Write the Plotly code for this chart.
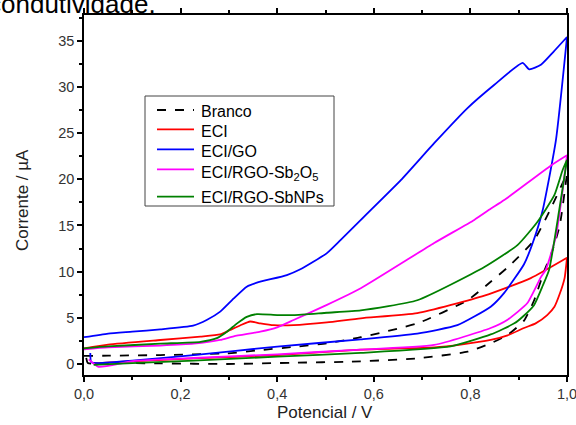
import plotly.graph_objects as go

# ---------------- data ----------------
names = ["Branco", "ECI", "ECI/GO", "ECI/RGO-Sb<sub>2</sub>O<sub>5</sub>", "ECI/RGO-SbNPs"]
colors = ["#000000", "#ff0000", "#0000ff", "#ff00ff", "#008000"]

# Branco (black dashed)
branco_v_up = [0, 0.05, 0.158, 0.296, 0.365, 0.434, 0.503, 0.573, 0.69, 0.794, 0.842, 0.88, 0.932, 0.967, 1.0]
branco_i_up = [0.87, 0.9, 0.97, 1.15, 1.5, 1.85, 2.24, 2.9, 4.4, 6.9, 8.9, 10.6, 13.4, 16.9, 20.6]
branco_v_dn = [1.0, 0.985, 0.968, 0.953, 0.932, 0.911, 0.877, 0.842, 0.794, 0.69, 0.552, 0.434, 0.296, 0.158, 0.05, 0.008, 0.004]
branco_i_dn = [20.6, 15.0, 12.0, 10.1, 6.9, 4.7, 3.14, 2.24, 1.33, 0.61, 0.25, 0.14, 0.0, 0.07, 0.1, 0.1, 0.87]

# ECI (red)
eci_v_up = [0, 0.05, 0.158, 0.241, 0.282, 0.303, 0.324, 0.344, 0.365, 0.393, 0.434, 0.503, 0.573, 0.69, 0.829, 0.925, 1.0]
eci_i_up = [1.7, 2.1, 2.6, 2.96, 3.2, 3.7, 4.2, 4.6, 4.4, 4.2, 4.2, 4.5, 4.95, 5.5, 7.4, 9.3, 11.5]
eci_v_dn = [1.0, 0.995, 0.985, 0.974, 0.959, 0.935, 0.911, 0.877, 0.842, 0.78, 0.725, 0.573, 0.4, 0.227, 0.1, 0.02]
eci_i_dn = [11.5, 9.3, 7.6, 6.2, 5.3, 4.4, 3.9, 3.1, 2.6, 2.1, 1.8, 1.55, 0.97, 0.6, 0.3, 0.07]

# ECI/GO (blue)
go_v_up = [0, 0.05, 0.1, 0.158, 0.226, 0.254, 0.282, 0.31, 0.337, 0.358, 0.42, 0.448, 0.503, 0.531, 0.58,
           0.656, 0.725, 0.794, 0.849, 0.908, 0.922, 0.946, 0.972, 1.0]
go_i_up = [2.9, 3.3, 3.5, 3.75, 4.15, 4.76, 5.67, 7.1, 8.37, 8.8, 9.63, 10.25, 12.0, 13.4, 15.95,
           19.9, 23.9, 27.7, 30.2, 32.6, 31.9, 32.4, 33.8, 35.4]
go_v_dn = [1.0, 0.977, 0.949, 0.929, 0.911, 0.87, 0.842, 0.773, 0.69, 0.573, 0.4, 0.227, 0.1, 0.03, 0.015, 0.013]
go_i_dn = [35.4, 24.2, 16.5, 13.1, 10.8, 7.7, 6.2, 4.2, 3.3, 2.67, 1.88, 0.97, 0.35, 0.1, 0.2, 1.2]

# ECI/RGO-Sb2O5 (magenta)
sb2o5_v_up = [0, 0.05, 0.158, 0.227, 0.282, 0.31, 0.365, 0.4, 0.434, 0.503, 0.573, 0.725, 0.808, 0.842, 0.87, 0.967, 1.0]
sb2o5_i_up = [1.6, 1.8, 2.0, 2.2, 2.6, 3.0, 3.5, 3.97, 4.76, 6.4, 8.2, 13.1, 15.6, 16.8, 17.75, 21.5, 22.6]
sb2o5_v_dn = [1.0, 0.991, 0.977, 0.956, 0.946, 0.918, 0.877, 0.842, 0.725, 0.552, 0.4, 0.227, 0.1, 0.03, 0.01]
sb2o5_i_dn = [22.6, 18.8, 13.8, 10.2, 9.4, 6.6, 4.8, 3.9, 2.06, 1.5, 1.05, 0.65, 0.3, -0.3, 0.5]

# ECI/RGO-SbNPs (green)
sbnp_v_up = [0, 0.05, 0.158, 0.241, 0.275, 0.296, 0.317, 0.337, 0.358, 0.4, 0.434, 0.503, 0.573, 0.69,
             0.829, 0.898, 0.939, 0.974, 0.991, 1.0]
sbnp_i_up = [1.7, 1.9, 2.2, 2.4, 2.8, 3.5, 4.4, 5.1, 5.4, 5.3, 5.3, 5.55, 5.8, 6.9,
             10.5, 12.9, 15.4, 18.3, 21.0, 22.1]
sbnp_v_dn = [1.0, 0.984, 0.963, 0.95, 0.932, 0.91, 0.891, 0.842, 0.759, 0.573, 0.4, 0.227, 0.1, 0.02]
sbnp_i_dn = [22.1, 16.7, 10.2, 8.5, 6.4, 5.2, 4.4, 3.2, 1.9, 1.2, 0.8, 0.36, 0.1, -0.1]

x_ticks = [0, 0.2, 0.4, 0.6, 0.8, 1.0]
y_ticks = [0, 5, 10, 15, 20, 25, 30, 35]
x_title = "Potencial / V"
y_title = "Corrente / µA"

series = [
    (branco_v_up + branco_v_dn, branco_i_up + branco_i_dn),
    (eci_v_up + eci_v_dn, eci_i_up + eci_i_dn),
    (go_v_up + go_v_dn, go_i_up + go_i_dn),
    (sb2o5_v_up + sb2o5_v_dn, sb2o5_i_up + sb2o5_i_dn),
    (sbnp_v_up + sbnp_v_dn, sbnp_i_up + sbnp_i_dn),
]

FONT = "Arial, Liberation Sans, sans-serif"
fig = go.Figure()
for k, (vx, iy) in enumerate(series):
    fig.add_trace(go.Scatter(
        x=vx, y=iy, mode="lines", name=names[k],
        line=dict(color=colors[k], width=1.8, dash="dash" if k == 0 else "solid",
                  shape="spline", smoothing=0.5),
        showlegend=False,
    ))

# ---- plot geometry (pixels) ----
L, R, T, B = 84, 567, 15, 375
W, H = 576, 425
def px(x):
    return (x - L) / (R - L)
def py(y):
    return (B - y) / (B - T)

shapes = []
annotations = []
# legend box
shapes.append(dict(type="rect", xref="paper", yref="paper", x0=px(145), x1=px(334),
                   y0=py(206), y1=py(96), line=dict(color="#444", width=1), fillcolor="white", layer="above"))
row_line_y = [110, 129.3, 149.3, 169.3, 196.7]
row_text_y = [111, 131, 151, 173, 197]
for k in range(5):
    shapes.append(dict(type="line", xref="paper", yref="paper", x0=px(157), x1=px(194),
                       y0=py(row_line_y[k]), y1=py(row_line_y[k]),
                       line=dict(color=colors[k], width=1.8, dash="dash" if k == 0 else "solid"),
                       layer="above"))
    annotations.append(dict(xref="paper", yref="paper", x=px(199), y=py(row_text_y[k]),
                            xanchor="left", yanchor="middle", text=names[k], showarrow=False,
                            font=dict(family=FONT, size=16, color="#000")))

# axis titles
annotations.append(dict(xref="paper", yref="paper", x=px(325), y=py(412), xanchor="center", yanchor="middle",
                        text=x_title, showarrow=False, font=dict(family=FONT, size=17, color="#222")))
annotations.append(dict(xref="paper", yref="paper", x=px(23), y=py(200), xanchor="center", yanchor="middle",
                        text=y_title, textangle=-90, showarrow=False, font=dict(family=FONT, size=17, color="#222")))

# cut-off document text at the top
annotations.append(dict(xref="paper", yref="paper", x=px(158), y=py(4), xanchor="right", yanchor="middle",
                        text="condutividade.", showarrow=False,
                        font=dict(family=FONT, size=26, color="#000")))

fig.update_layout(
    width=W, height=H,
    margin=dict(l=L, r=W - R, t=T, b=H - B),
    paper_bgcolor="white", plot_bgcolor="white",
    separators=",.",
    font=dict(family=FONT, color="#222"),
    shapes=shapes, annotations=annotations,
)
fig.update_xaxes(
    range=[0, 1.0], tickmode="array", tickvals=x_ticks, tickformat=".1f",
    ticks="outside", ticklen=5, tickwidth=1.5, tickcolor="#000",
    minor=dict(dtick=0.1, tick0=0, ticks="outside", ticklen=3, tickwidth=1.5, tickcolor="#000"),
    showline=True, linecolor="#000", linewidth=1.5, mirror="ticks",
    showgrid=False, zeroline=False, automargin=False, ticklabeloverflow="allow",
    tickfont=dict(family=FONT, size=14.5, color="#333"),
)
fig.update_yaxes(
    range=[-1.19, 37.78], tickmode="array", tickvals=y_ticks,
    ticks="outside", ticklen=5, tickwidth=1.5, tickcolor="#000",
    minor=dict(dtick=2.5, tick0=0, ticks="outside", ticklen=3, tickwidth=1.5, tickcolor="#000"),
    showline=True, linecolor="#000", linewidth=1.5, mirror=True,
    showgrid=False, zeroline=False, automargin=False, ticklabeloverflow="allow",
    tickfont=dict(family=FONT, size=14.5, color="#333"),
)
fig.write_html("out.html", config={"displayModeBar": False},
               post_script="document.body.style.margin='0';document.body.style.overflow='hidden';")
